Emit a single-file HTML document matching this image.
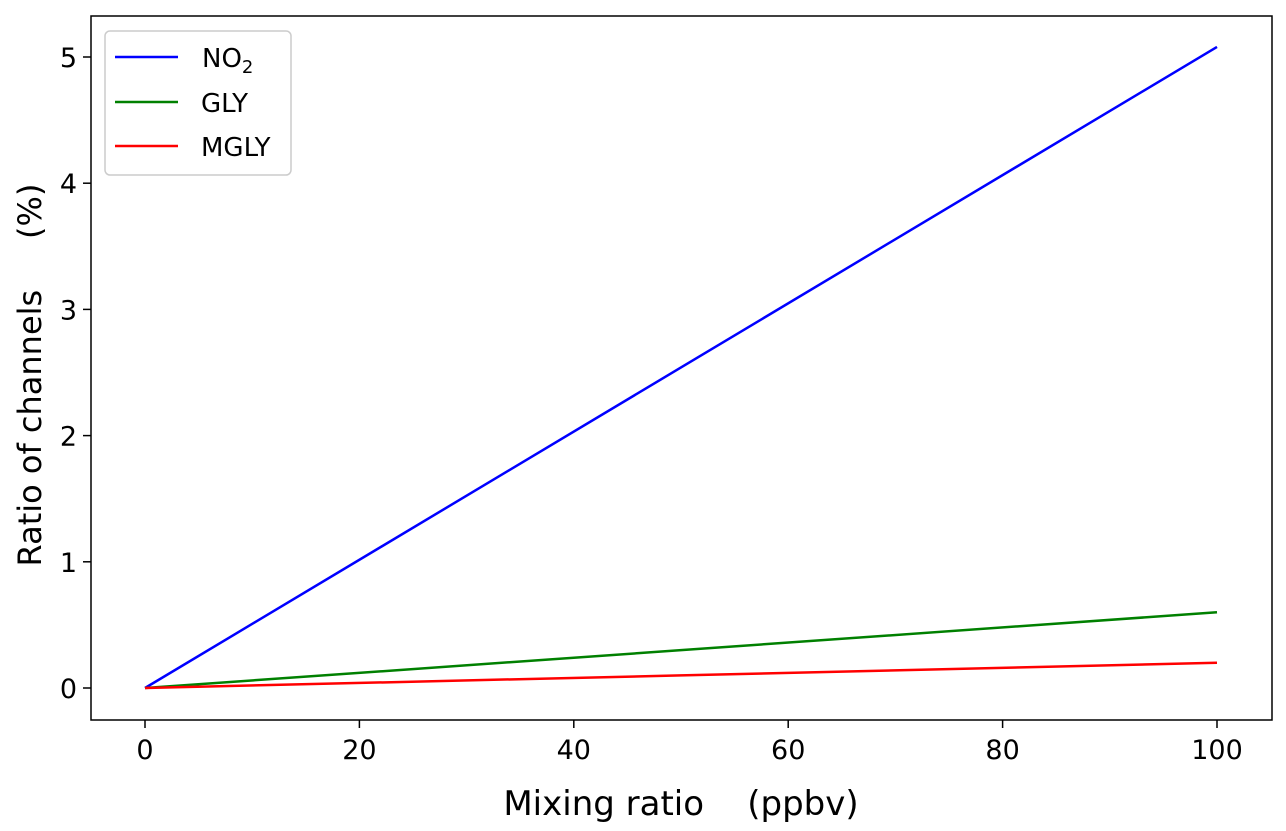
<!DOCTYPE html>
<html><head><meta charset="utf-8"><style>
html,body{margin:0;padding:0;background:#fff;}
svg{display:block;font-family:"DejaVu Sans","Liberation Sans",sans-serif;}
</style></head><body>
<svg id="chart" width="1286" height="831" viewBox="0 0 1286 831" style="position:absolute;left:0;top:0"></svg>
<script>
const xValues = [0, 50, 100];
const no2Values = [0, 2.54, 5.08];
const glyValues = [0, 0.30, 0.60];
const mglyValues = [0, 0.10, 0.20];
const xTicks = [0, 20, 40, 60, 80, 100];
const yTicks = [0, 1, 2, 3, 4, 5];

const NS = "http://www.w3.org/2000/svg";
const svg = document.getElementById('chart');
const L = 91, R = 1272, T = 16, B = 720;
function xs(v){ return 145 + (1217 - 145) * v / 100; }
function ys(v){ return 688 - (688 - 57) * v / 5; }
function mk(tag, attrs, parent){ const e = document.createElementNS(NS, tag); for (const k in attrs) e.setAttribute(k, attrs[k]); (parent || svg).appendChild(e); return e; }

const series = [
  {vals: no2Values, color: '#0000ff', name: 'series-no2'},
  {vals: glyValues, color: '#008000', name: 'series-gly'},
  {vals: mglyValues, color: '#ff0000', name: 'series-mgly'}
];
series.forEach(s => {
  const p = mk('polyline', {points: xValues.map((x, i) => xs(x) + ',' + ys(s.vals[i])).join(' '), fill: 'none', stroke: s.color, 'stroke-width': 2.5});
  
  
});

const frame = mk('rect', {x: L, y: T, width: R - L, height: B - T, fill: 'none', stroke: '#000', 'stroke-width': 1.5});



xTicks.forEach(t => {
  const x = xs(t);
  const ln = mk('line', {x1: x, x2: x, y1: B, y2: B + 8, stroke: '#000', 'stroke-width': 1.5});
  
  
  const tx = mk('text', {x: x, y: B + 39, 'font-size': 27, 'text-anchor': 'middle'});
  tx.textContent = t;
  
  
});
yTicks.forEach(t => {
  const y = ys(t);
  const ln = mk('line', {x1: L - 8, x2: L, y1: y, y2: y, stroke: '#000', 'stroke-width': 1.5});
  
  
  const tx = mk('text', {x: L - 14, y: y + 10, 'font-size': 27, 'text-anchor': 'end'});
  tx.textContent = t;
  
  
});
</script>
<svg style="position:absolute;left:0;top:0" width="1286" height="831">
  <text x="681" y="815" font-size="34" text-anchor="middle" xml:space="preserve">Mixing ratio    (ppbv)</text>
  <text transform="translate(41,375) rotate(-90)" font-size="32" text-anchor="middle" xml:space="preserve">Ratio of channels     (%)</text>
  <g font-size="26">
    <rect x="105" y="31" width="186" height="144" rx="5" fill="#fff" stroke="#ccc" stroke-width="1.5"/>
    <g>
      <line x1="115" x2="178" y1="57" y2="57" stroke="#0000ff" stroke-width="2.5"/>
      <text x="202" y="67">NO<tspan font-size="18" dy="6">2</tspan></text>
    </g>
    <g>
      <line x1="115" x2="178" y1="102" y2="102" stroke="#008000" stroke-width="2.5"/>
      <text x="201" y="112">GLY</text>
    </g>
    <g>
      <line x1="115" x2="178" y1="146" y2="146" stroke="#ff0000" stroke-width="2.5"/>
      <text x="201" y="156">MGLY</text>
    </g>
  </g>
</svg>
</body></html>
